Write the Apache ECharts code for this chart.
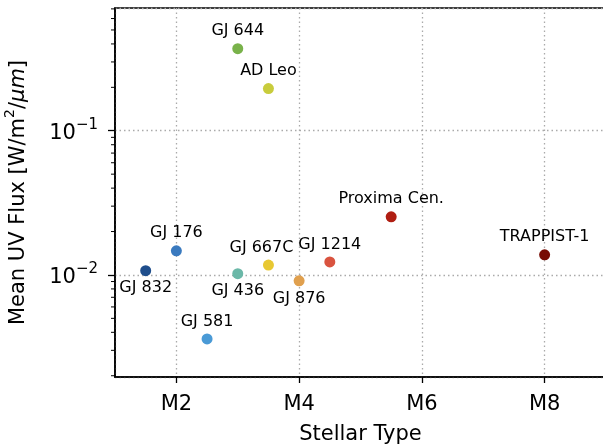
<!DOCTYPE html>
<html>
<head>
<meta charset="utf-8">
<script src="https://cdn.jsdelivr.net/npm/echarts@6/dist/echarts.min.js"></script>
<style>
  html, body { margin: 0; padding: 0; background: #fff; }
  #chart { width: 603px; height: 448px; }
</style>
</head>
<body>
<div id="chart"></div>
<script>
  // stars, stellar subtype (M1 = 1 ... M9 = 9), mean UV flux
  const starNames = ["GJ 832", "GJ 176", "GJ 581", "GJ 436", "GJ 644", "AD Leo",
    "GJ 667C", "GJ 876", "GJ 1214", "Proxima Cen.", "TRAPPIST-1"];
  const stellarType = [1.5, 2, 2.5, 3, 3, 3.5, 3.5, 4, 4.5, 5.5, 8];
  const uvFlux = [0.0107, 0.0147, 0.0036, 0.0102, 0.371, 0.196,
    0.0117, 0.0091, 0.0123, 0.0253, 0.0138];
  const xTickLabels = ["M2", "M4", "M6", "M8"];
  const xTickValues = [2, 4, 6, 8];

  const pointColors = ["#1f4e8c", "#3a7abf", "#4a9ad6", "#6bb8a8", "#79b24a", "#c8cc3c",
    "#e8c832", "#e0a04e", "#d9533f", "#b01e12", "#780c04"];
  const labelSide = ["bottom", "top", "top", "bottom", "top", "top",
    "top", "bottom", "top", "top", "top"];
  const labelShift = [[0, 0], [0, 0], [0, 0], [0, 0], [0, 0], [0, 0],
    [-7, 0], [0, 0], [0, 0], [0, 0], [0, 0]];

  // minor ticks of the log axis (2..9 x 10^k)
  const minorTicks = [];
  [0.001, 0.01, 0.1].forEach(p => {
    for (let k = 2; k <= 9; k++) minorTicks.push(+(k * p).toPrecision(3));
  });

  const FONT = "DejaVu Sans";
  const yMin = 0.00196, yMax = 0.71, xMin = 1, xMax = 9;

  const chart = echarts.init(document.getElementById("chart"));

  function powLabel(v) {
    const e = Math.log10(v);
    if (Math.abs(e - Math.round(e)) > 1e-6) return "";
    return "{b|10}{s|\u2212" + Math.abs(Math.round(e)) + "}";
  }

  chart.setOption({
    animation: false,
    grid: {
      left: 115, right: -3, top: 8, bottom: 71,
      outerBoundsMode: "none",
      containLabel: false,
      show: true, borderColor: "#000", borderWidth: 1.6
    },
    xAxis: {
      type: "value",
      min: xMin, max: xMax,
      splitNumber: 4, minInterval: 2, maxInterval: 2,
      name: "Stellar Type",
      nameLocation: "middle",
      nameGap: 47,
      nameTextStyle: { fontFamily: FONT, fontSize: 21, color: "#000" },
      axisLine: { lineStyle: { color: "#000", width: 1.6 } },
      axisTick: { inside: false, length: 6, lineStyle: { color: "#000", width: 1.3 } },
      axisLabel: {
        fontFamily: FONT, fontSize: 21, color: "#000", margin: 17,
        showMinLabel: false, showMaxLabel: false,
        formatter: v => {
          const i = xTickValues.indexOf(v);
          return i >= 0 ? xTickLabels[i] : "";
        }
      },
      splitLine: { show: true, lineStyle: { color: "#aaaaaa", type: [1.5, 3], width: 1.3 } }
    },
    yAxis: {
      type: "log",
      logBase: 10,
      min: yMin, max: yMax,
      splitNumber: 2,
      name: "{a|Mean UV Flux [W/m}{s|2}{a|/}{i|\u03bcm}{a|]}",
      nameLocation: "middle",
      nameGap: 86,
      nameRotate: 90,
      nameTextStyle: {
        fontFamily: FONT, fontSize: 21, color: "#000",
        rich: {
          a: { fontFamily: FONT, fontSize: 21, color: "#000", verticalAlign: "bottom", lineHeight: 26 },
          s: { fontFamily: FONT, fontSize: 14, color: "#000", verticalAlign: "top", lineHeight: 26 },
          i: { fontFamily: FONT, fontSize: 21, color: "#000", fontStyle: "italic", verticalAlign: "bottom", lineHeight: 26 }
        }
      },
      axisLine: { show: true, lineStyle: { color: "#000", width: 1.6 } },
      axisTick: { inside: false, length: 7, lineStyle: { color: "#000", width: 1.3 } },
      axisLabel: {
        fontFamily: FONT, color: "#000", margin: 17,
        showMinLabel: false, showMaxLabel: false,
        formatter: powLabel,
        rich: {
          b: { fontFamily: FONT, fontSize: 21, color: "#000", verticalAlign: "bottom", lineHeight: 26 },
          s: { fontFamily: FONT, fontSize: 15, color: "#000", verticalAlign: "top", lineHeight: 26 }
        }
      },
      splitLine: { show: true, lineStyle: { color: "#aaaaaa", type: [1.5, 3], width: 1.3 } }
    },
    series: [
      {
        type: "scatter",
        symbolSize: 11,
        data: starNames.map((n, i) => ({
          name: n,
          value: [stellarType[i], uvFlux[i]],
          itemStyle: { color: pointColors[i], opacity: 1 },
          label: {
            show: true,
            formatter: n,
            position: labelSide[i],
            distance: 4,
            offset: labelShift[i],
            fontFamily: FONT, fontSize: 16, color: "#000"
          }
        })),
        z: 5
      },
      {
        type: "custom",
        silent: true,
        clip: false,
        data: minorTicks.filter(v => v > yMin && v < yMax).map(v => [xMin, v]),
        renderItem: (params, api) => {
          const p = api.coord([api.value(0), api.value(1)]);
          return {
            type: "line",
            shape: { x1: p[0] - 4, y1: p[1], x2: p[0], y2: p[1] },
            style: { stroke: "#000", lineWidth: 1 }
          };
        },
        z: 6
      }
    ]
  });
</script>
</body>
</html>
